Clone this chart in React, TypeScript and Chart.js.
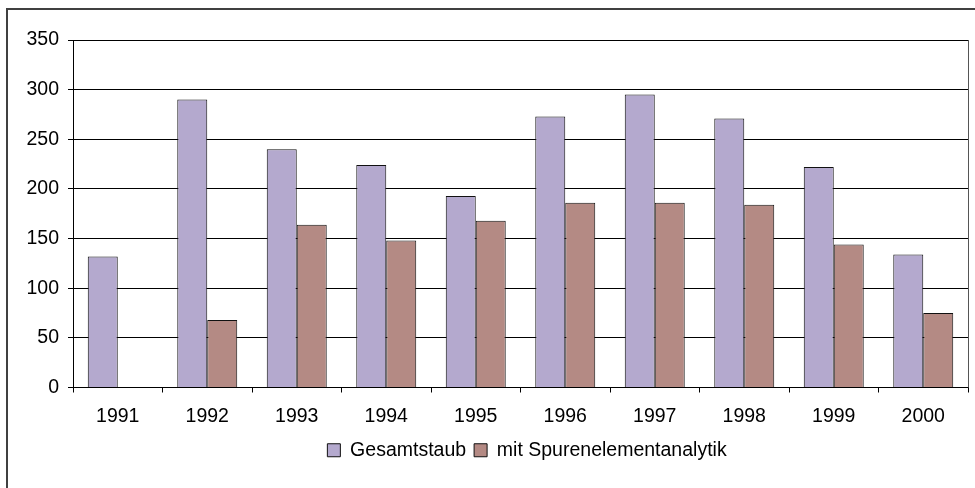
import React, { useEffect, useRef } from "react";
import { Chart, registerables } from "chart.js";

Chart.register(...registerables);

const years = ["1991", "1992", "1993", "1994", "1995", "1996", "1997", "1998", "1999", "2000"];
const gesamtstaub = [132, 290, 240, 224, 193, 273, 295, 271, 222, 134];
const spuren = [null, 68, 164, 148, 168, 186, 186, 184, 144, 75];
const seriesNames = ["Gesamtstaub", "mit Spurenelementanalytik"];

const FONT = "'Liberation Sans', Arial, sans-serif";
const FS = 19.5;

const framePlugin = {
  id: "frame",
  afterLayout(chart: any) {
    const lg = chart.legend;
    if (lg) {
      lg.left += 43;
      lg.right += 43;
    }
  },
  afterDraw(chart: any) {
    const ctx = chart.ctx;
    const a = chart.chartArea;
    ctx.save();
    ctx.strokeStyle = "#555";
    ctx.lineWidth = 1;
    ctx.beginPath();
    ctx.moveTo(Math.round(a.right) + 0.5, a.top);
    ctx.lineTo(Math.round(a.right) + 0.5, a.bottom);
    ctx.stroke();
    ctx.strokeStyle = "#404040";
    ctx.lineWidth = 2;
    ctx.strokeRect(7, 9, 1000, 1000);
    ctx.restore();
  },
};

export default function App() {
  const ref = useRef<HTMLCanvasElement>(null);
  useEffect(() => {
    if (!ref.current) return;
    const chart = new Chart(ref.current, {
      type: "bar",
      data: {
        labels: years,
        datasets: [
          {
            label: seriesNames[0],
            data: gesamtstaub,
            backgroundColor: "#b4a9ce",
            borderColor: "#111",
            borderWidth: 1,
            barPercentage: 1,
            categoryPercentage: 0.67,
          },
          {
            label: seriesNames[1],
            data: spuren as any,
            backgroundColor: "#b48a84",
            borderColor: "#111",
            borderWidth: 1,
            barPercentage: 1,
            categoryPercentage: 0.67,
          },
        ],
      },
      options: {
        responsive: false,
        animation: false,
        layout: { padding: { left: 0, top: 40, right: 7, bottom: 18 } },
        plugins: {
          tooltip: { enabled: false },
          legend: {
            position: "bottom",
            labels: {
              color: "#000",
              font: { family: FONT, size: FS },
              boxWidth: 13,
              boxHeight: 13,
              padding: 8,
            },
          },
        },
        scales: {
          x: {
            grid: {
              display: true,
              drawOnChartArea: false,
              drawTicks: true,
              tickLength: 5,
              color: "#000",
            },
            border: { color: "#000", width: 1 },
            ticks: {
              color: "#000",
              font: { family: FONT, size: FS },
              padding: 12,
              maxRotation: 0,
            },
            afterFit(scale: any) {
              scale.height = 45;
            },
          },
          y: {
            min: 0,
            max: 350,
            grid: {
              color: "#000",
              lineWidth: 1,
              drawTicks: true,
              tickLength: 5,
            },
            border: { color: "#000", width: 1 },
            ticks: {
              stepSize: 50,
              color: "#000",
              font: { family: FONT, size: FS },
              padding: 9,
            },
            afterFit(scale: any) {
              scale.width = 73;
            },
          },
        },
      },
      plugins: [framePlugin],
    });
    return () => chart.destroy();
  }, []);
  return (
    <div style={{ position: "absolute", left: 0, top: 0, width: 975, height: 488, background: "#fff" }}>
      <canvas ref={ref} width={975} height={488} />
    </div>
  );
}
